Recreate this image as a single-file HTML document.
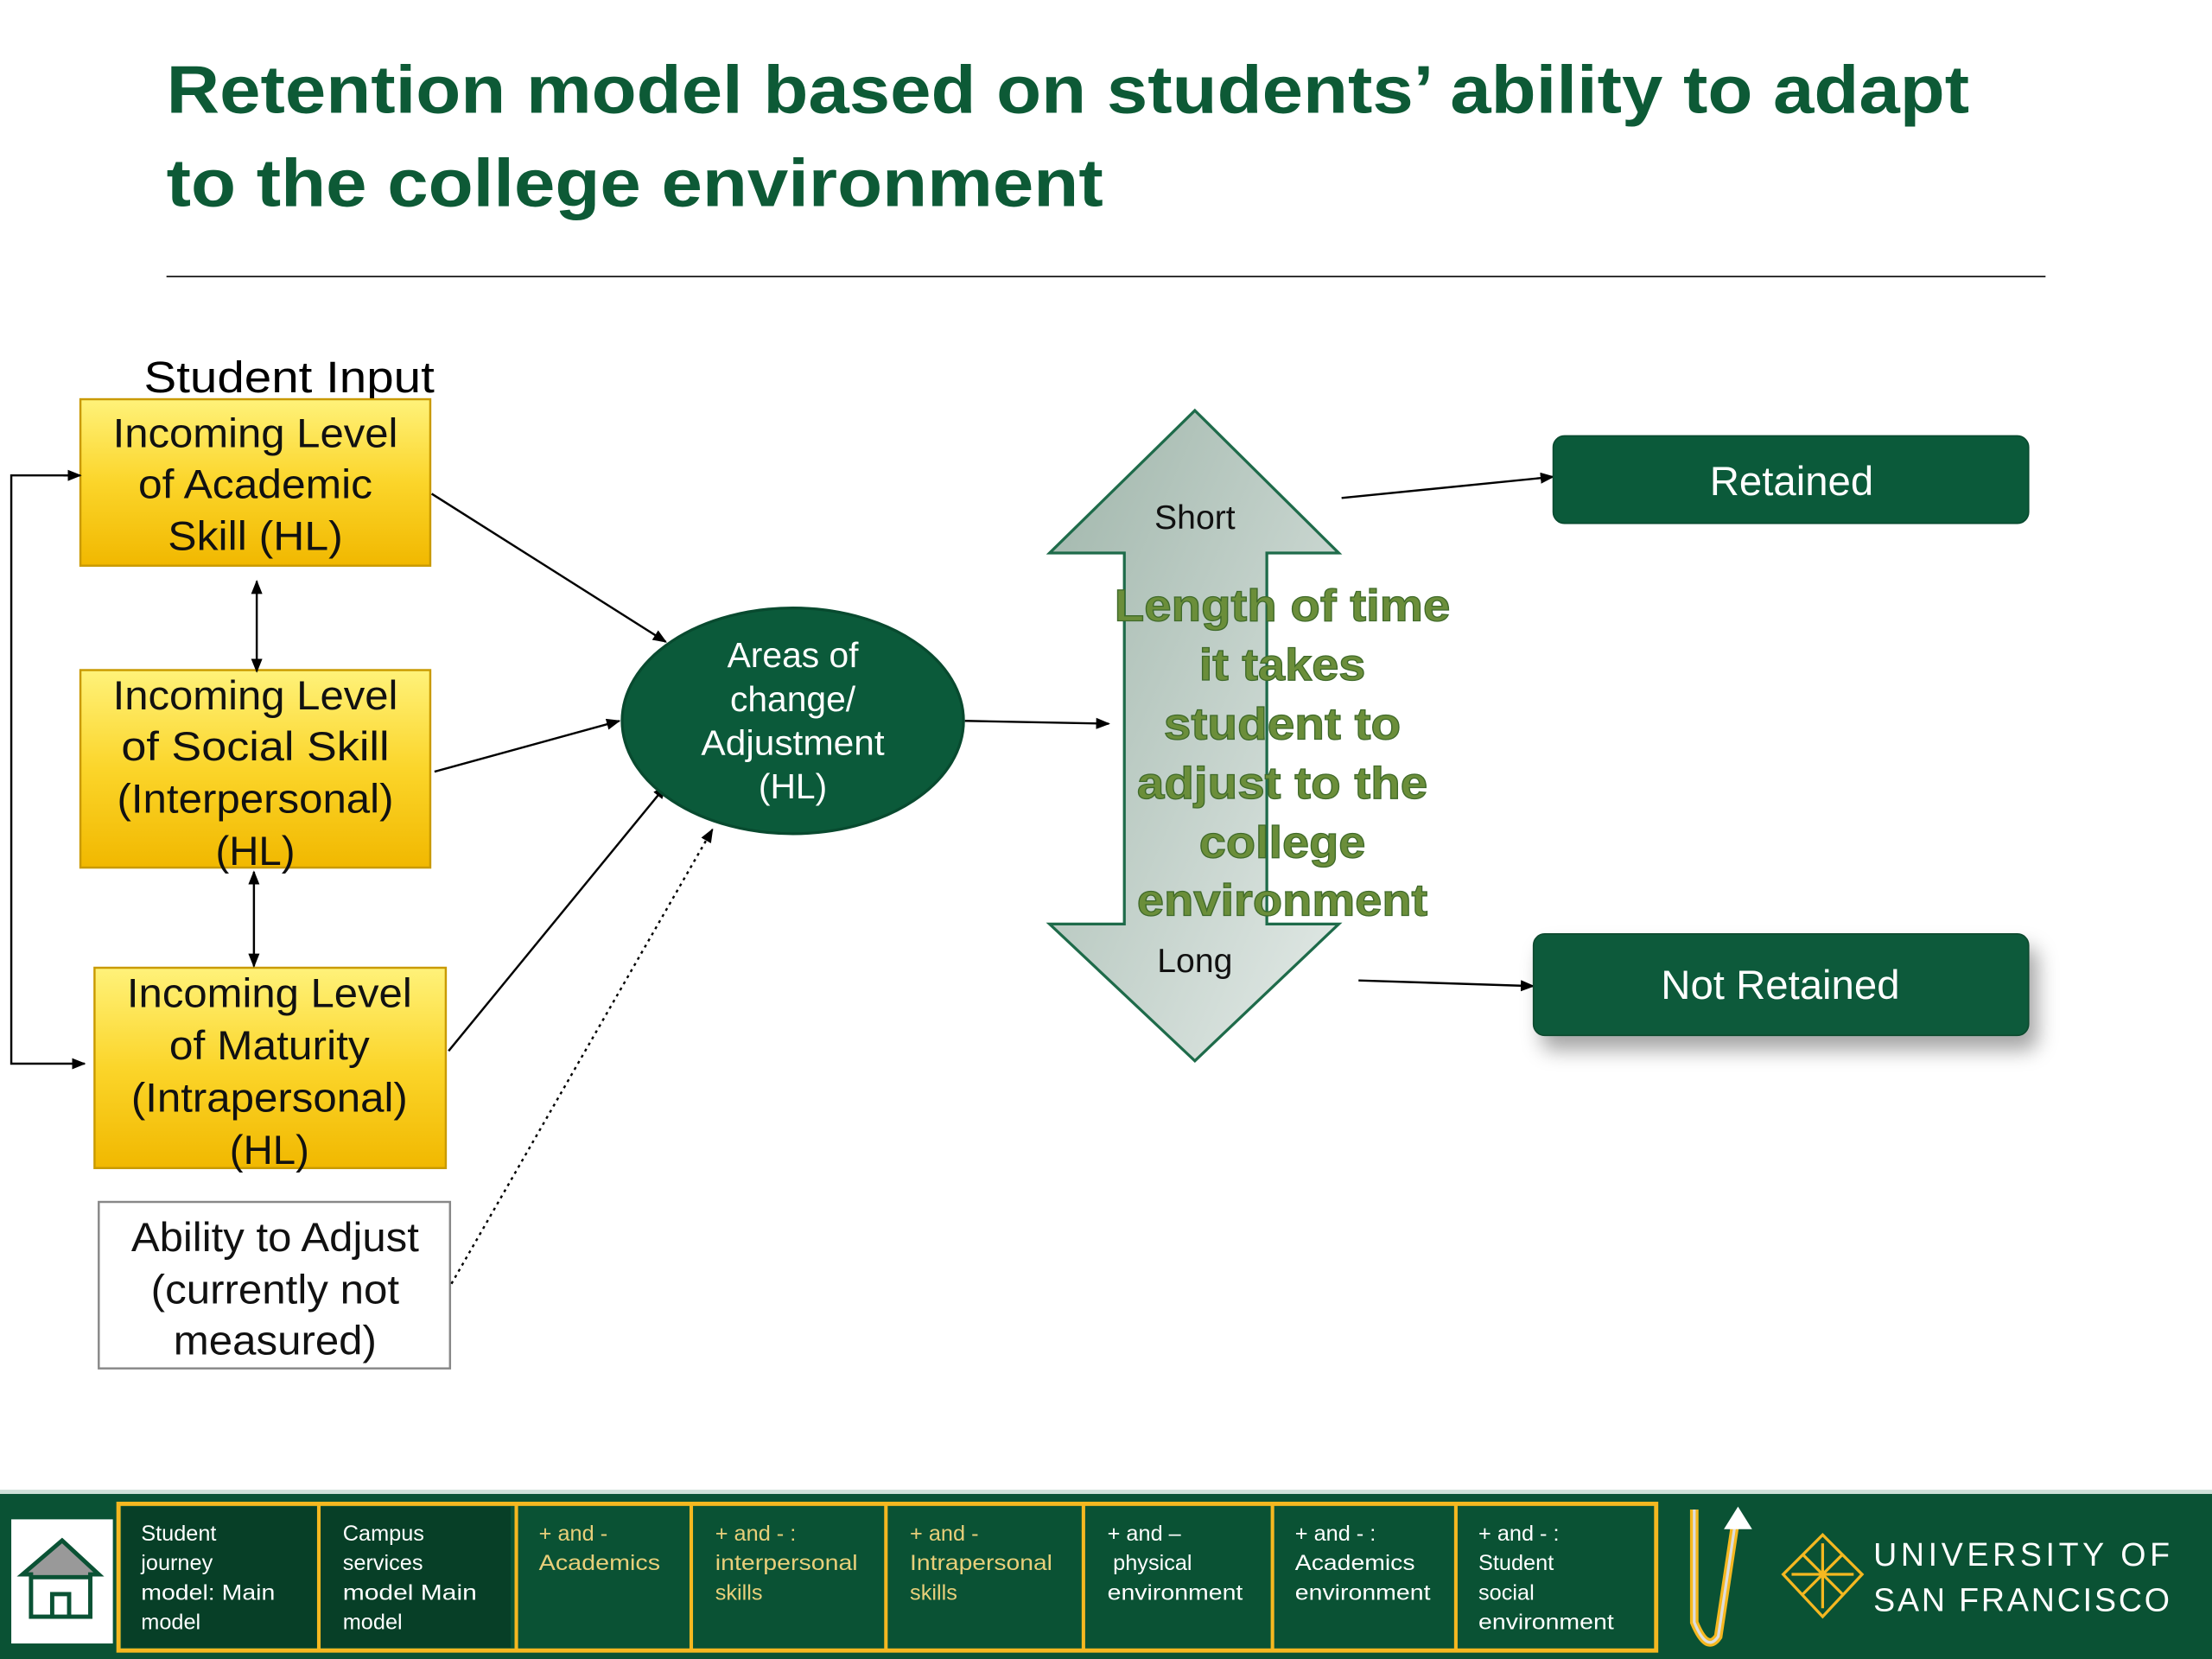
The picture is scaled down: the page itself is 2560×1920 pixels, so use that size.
<!DOCTYPE html>
<html><head><meta charset="utf-8"><style>
html,body{margin:0;padding:0;background:#fff}
svg{display:block}
text{font-family:"Liberation Sans",Arial,sans-serif}
</style></head><body>
<svg width="2560" height="1920" viewBox="0 0 1568 1176" xmlns="http://www.w3.org/2000/svg">
<defs>
<linearGradient id="yel" x1="0" y1="0" x2="0" y2="1"><stop offset="0" stop-color="#fff27a"/><stop offset="0.5" stop-color="#fbd52a"/><stop offset="1" stop-color="#f1b800"/></linearGradient>
<linearGradient id="arr" x1="0" y1="0" x2="1" y2="1"><stop offset="0" stop-color="#9fb5aa"/><stop offset="1" stop-color="#e4ebe8"/></linearGradient>
<marker id="ah" markerWidth="10" markerHeight="8" refX="9" refY="4" orient="auto" markerUnits="userSpaceOnUse"><path d="M0,0 L10,4 L0,8z" fill="#000"/></marker>
<marker id="ahs" markerWidth="10" markerHeight="8" refX="1" refY="4" orient="auto" markerUnits="userSpaceOnUse"><path d="M10,0 L0,4 L10,8z" fill="#000"/></marker>
<filter id="sh" x="-10%" y="-10%" width="130%" height="160%"><feDropShadow dx="6" dy="10" stdDeviation="7" flood-color="#000" flood-opacity="0.35"/></filter>
</defs>
<text x="118" y="80" font-size="48" font-weight="bold" fill="#0d5a36" textLength="1278" lengthAdjust="spacingAndGlyphs">Retention model based on students’ ability to adapt</text>
<text x="118" y="146" font-size="48" font-weight="bold" fill="#0d5a36" textLength="664" lengthAdjust="spacingAndGlyphs">to the college environment</text>
<line x1="118" y1="196" x2="1450" y2="196" stroke="#333" stroke-width="1.3"/>

<text x="102" y="278" font-size="31" fill="#000" textLength="206" lengthAdjust="spacingAndGlyphs">Student Input</text>
<g font-size="29" fill="#111" text-anchor="middle" transform="scale(1,1)">
<rect x="57" y="283" width="248" height="118" fill="url(#yel)" stroke="#c99a00" stroke-width="1.5"/>
<text x="181" y="317" textLength="202" lengthAdjust="spacingAndGlyphs">Incoming Level</text><text x="181" y="353" textLength="166" lengthAdjust="spacingAndGlyphs">of Academic</text><text x="181" y="390" textLength="124" lengthAdjust="spacingAndGlyphs">Skill (HL)</text>
<rect x="57" y="475" width="248" height="140" fill="url(#yel)" stroke="#c99a00" stroke-width="1.5"/>
<text x="181" y="503" textLength="202" lengthAdjust="spacingAndGlyphs">Incoming Level</text><text x="181" y="539" textLength="190" lengthAdjust="spacingAndGlyphs">of Social Skill</text><text x="181" y="576" textLength="196" lengthAdjust="spacingAndGlyphs">(Interpersonal)</text><text x="181" y="613">(HL)</text>
<rect x="67" y="686" width="249" height="142" fill="url(#yel)" stroke="#c99a00" stroke-width="1.5"/>
<text x="191" y="714" textLength="202" lengthAdjust="spacingAndGlyphs">Incoming Level</text><text x="191" y="751" textLength="142" lengthAdjust="spacingAndGlyphs">of Maturity</text><text x="191" y="788" textLength="196" lengthAdjust="spacingAndGlyphs">(Intrapersonal)</text><text x="191" y="825">(HL)</text>
<rect x="70" y="852" width="249" height="118" fill="#fff" stroke="#888" stroke-width="1.5"/>
<text x="195" y="887" textLength="204" lengthAdjust="spacingAndGlyphs">Ability to Adjust</text><text x="195" y="924" textLength="176" lengthAdjust="spacingAndGlyphs">(currently not</text><text x="195" y="960" textLength="144" lengthAdjust="spacingAndGlyphs">measured)</text>
</g>
<polyline points="57,337 8,337 8,754 60,754" fill="none" stroke="#000" stroke-width="1.5" marker-end="url(#ah)"/>
<line x1="45" y1="337" x2="57" y2="337" stroke="#000" stroke-width="1.5" marker-end="url(#ah)"/>
<line x1="182" y1="412" x2="182" y2="476" stroke="#000" stroke-width="1.5" marker-start="url(#ahs)" marker-end="url(#ah)"/>
<line x1="180" y1="618" x2="180" y2="685" stroke="#000" stroke-width="1.5" marker-start="url(#ahs)" marker-end="url(#ah)"/>
<line x1="306" y1="350" x2="472" y2="455" stroke="#000" stroke-width="1.5" marker-end="url(#ah)"/>
<line x1="308" y1="547" x2="439" y2="511" stroke="#000" stroke-width="1.5" marker-end="url(#ah)"/>
<line x1="318" y1="745" x2="472" y2="557" stroke="#000" stroke-width="1.5" marker-end="url(#ah)"/>
<line x1="320" y1="910" x2="505" y2="588" stroke="#000" stroke-width="1.5" stroke-dasharray="2,3" marker-end="url(#ah)"/>
<ellipse cx="562" cy="511" rx="121" ry="80" fill="#0b5a3a" stroke="#084a2f" stroke-width="2"/>
<g font-size="25" fill="#fff" text-anchor="middle">
<text x="562" y="473">Areas of</text><text x="562" y="504">change/</text><text x="562" y="535" textLength="130" lengthAdjust="spacingAndGlyphs">Adjustment</text><text x="562" y="566">(HL)</text>
</g>
<line x1="684" y1="511" x2="786" y2="513" stroke="#000" stroke-width="1.5" marker-end="url(#ah)"/>
<polygon points="847,291 949,392 898,392 898,655 949,655 847,752 744,655 797,655 797,392 744,392" fill="url(#arr)" stroke="#1e6b4a" stroke-width="2"/>
<text x="847" y="375" font-size="24" text-anchor="middle" fill="#111">Short</text>
<text x="847" y="689" font-size="24" text-anchor="middle" fill="#111">Long</text>
<g font-size="32" font-weight="bold" fill="#6b8e3a" stroke="#3f6a2a" stroke-width="0.8" text-anchor="middle">
<text x="909" y="440" textLength="238" lengthAdjust="spacingAndGlyphs">Length of time</text><text x="909" y="482" textLength="118" lengthAdjust="spacingAndGlyphs">it takes</text><text x="909" y="524" textLength="168" lengthAdjust="spacingAndGlyphs">student to</text><text x="909" y="566" textLength="206" lengthAdjust="spacingAndGlyphs">adjust to the</text><text x="909" y="608" textLength="118" lengthAdjust="spacingAndGlyphs">college</text><text x="909" y="649" textLength="206" lengthAdjust="spacingAndGlyphs">environment</text>
</g>
<line x1="951" y1="353" x2="1101" y2="338" stroke="#000" stroke-width="1.5" marker-end="url(#ah)"/>
<line x1="963" y1="695" x2="1087" y2="699" stroke="#000" stroke-width="1.5" marker-end="url(#ah)"/>
<rect x="1101" y="309" width="337" height="62" rx="8" fill="#0b5a3a" stroke="#084a2f"/>
<text x="1270" y="351" font-size="29" fill="#fff" text-anchor="middle">Retained</text>
<rect x="1087" y="662" width="351" height="72" rx="8" fill="#0b5a3a" stroke="#084a2f" filter="url(#sh)"/>
<text x="1262" y="708" font-size="29" fill="#fff" text-anchor="middle">Not Retained</text>

<rect x="0" y="1058" width="1568" height="118" fill="#0a5234"/>
<rect x="0" y="1056" width="1568" height="3" fill="#cfe0d8"/>
<rect x="8" y="1077" width="72" height="88" fill="#fff"/>
<polygon points="44,1092 70,1116 64,1116 64,1146 22,1146 22,1116 16,1116" fill="#999" stroke="#0a5234" stroke-width="3"/>
<rect x="22" y="1118" width="42" height="28" fill="#fff" stroke="#0a5234" stroke-width="3"/>
<rect x="37" y="1130" width="12" height="16" fill="#fff" stroke="#0a5234" stroke-width="3"/>
<rect x="84" y="1066" width="1090" height="104" fill="none" stroke="#f5b820" stroke-width="3"/>
<rect x="86" y="1068" width="276" height="100" fill="#073f27"/>
<g stroke="#f5b820" stroke-width="2.5">
<line x1="226" y1="1066" x2="226" y2="1170"/><line x1="366" y1="1066" x2="366" y2="1170"/><line x1="490" y1="1066" x2="490" y2="1170"/><line x1="628" y1="1066" x2="628" y2="1170"/><line x1="768" y1="1066" x2="768" y2="1170"/><line x1="902" y1="1066" x2="902" y2="1170"/><line x1="1032" y1="1066" x2="1032" y2="1170"/>
</g>
<g font-size="15.5" transform="translate(0,0)">
<g fill="#fff"><text x="100" y="1092">Student</text><text x="100" y="1113">journey</text><text x="100" y="1134" textLength="95" lengthAdjust="spacingAndGlyphs">model: Main</text><text x="100" y="1155">model</text>
<text x="243" y="1092">Campus</text><text x="243" y="1113">services</text><text x="243" y="1134" textLength="95" lengthAdjust="spacingAndGlyphs">model  Main</text><text x="243" y="1155">model</text></g>
<g fill="#e8cf7a"><text x="382" y="1092">+ and -</text><text x="382" y="1113" textLength="86" lengthAdjust="spacingAndGlyphs">Academics</text>
<text x="507" y="1092">+ and - :</text><text x="507" y="1113" textLength="101" lengthAdjust="spacingAndGlyphs">interpersonal</text><text x="507" y="1134">skills</text>
<text x="645" y="1092">+ and -</text><text x="645" y="1113" textLength="101" lengthAdjust="spacingAndGlyphs">Intrapersonal</text><text x="645" y="1134">skills</text></g>
<g fill="#fff"><text x="785" y="1092">+ and –</text><text x="789" y="1113">physical</text><text x="785" y="1134" textLength="96" lengthAdjust="spacingAndGlyphs">environment</text>
<text x="918" y="1092">+ and - :</text><text x="918" y="1113" textLength="85" lengthAdjust="spacingAndGlyphs">Academics</text><text x="918" y="1134" textLength="96" lengthAdjust="spacingAndGlyphs">environment</text>
<text x="1048" y="1092">+ and - :</text><text x="1048" y="1113">Student</text><text x="1048" y="1134">social</text><text x="1048" y="1155" textLength="96" lengthAdjust="spacingAndGlyphs">environment</text></g>
</g>
<path d="M1201,1070 L1201,1150 Q1210,1172 1218,1160 L1230,1080" fill="none" stroke="#f5b820" stroke-width="6"/>
<path d="M1201,1070 L1201,1150 Q1210,1172 1218,1160 L1230,1080" fill="none" stroke="#ddd" stroke-width="2"/>
<polygon points="1232,1068 1242,1084 1222,1084" fill="#fff"/>
<g stroke="#f5b820" stroke-width="2" fill="none">
<polygon points="1292,1088 1320,1116 1292,1146 1264,1116"/>
<line x1="1292" y1="1094" x2="1292" y2="1140"/><line x1="1270" y1="1116" x2="1314" y2="1116"/>
<line x1="1278" y1="1102" x2="1306" y2="1130"/><line x1="1306" y1="1102" x2="1278" y2="1130"/>
</g>
<g font-size="23" fill="#fff">
<text x="1328" y="1110" textLength="210" lengthAdjust="spacing">UNIVERSITY OF</text><text x="1328" y="1142" textLength="210" lengthAdjust="spacing">SAN FRANCISCO</text>
</g>
</svg>
</body></html>
